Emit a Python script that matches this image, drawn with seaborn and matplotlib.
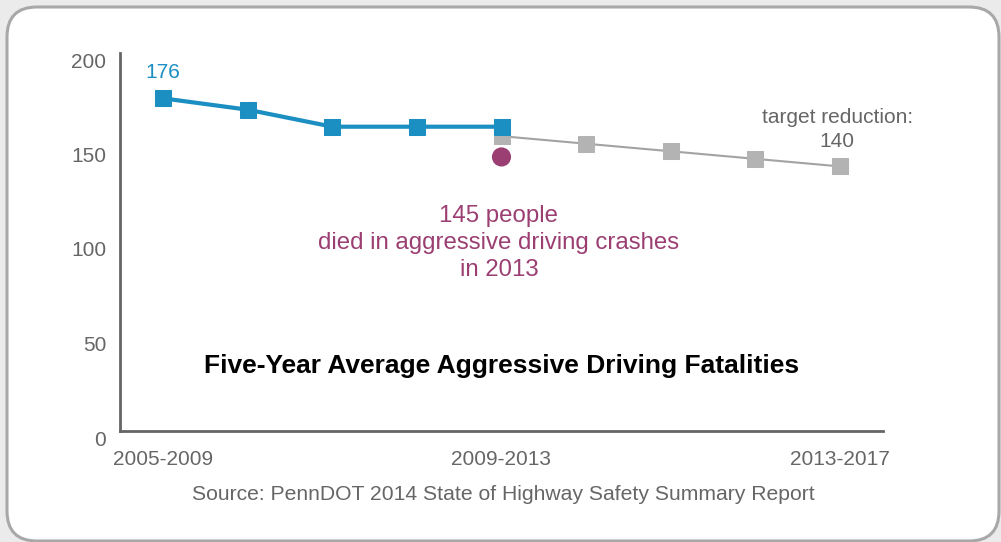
import matplotlib
matplotlib.use("Agg")
import matplotlib.pyplot as plt
import matplotlib.transforms as mtransforms
from matplotlib.patches import FancyBboxPatch
import seaborn as sns
import pandas as pd

# ---- data ----
periods = ["2005-2009", "2006-2010", "2007-2011", "2008-2012", "2009-2013",
           "2010-2014", "2011-2015", "2012-2016", "2013-2017"]
actual_values = [176, 170, 161, 161, 161]
target_values = [156, 152, 148, 144, 140]
observed_2013 = [145]
yticks = [0, 50, 100, 150, 200]
xtick_labels = ["2005-2009", "2009-2013", "2013-2017"]

BLUE = "#1b8ec2"
GRAY_M = "#b3b3b3"
GRAY_L = "#a3a3a3"
PURPLE = "#9b3f72"
TXT = "#666666"
FONT = ["Liberation Sans", "DejaVu Sans"]

sns.set_theme(style="white")
plt.rcParams["font.family"] = FONT

fig = plt.figure(figsize=(10.01, 5.42), dpi=100)
fig.patch.set_facecolor("#ebebeb")

# rounded card
card = FancyBboxPatch((7 / 1001, 1 / 542), 992 / 1001, 534 / 542,
                      boxstyle="round,pad=0,rounding_size=0.03",
                      transform=fig.transFigure, facecolor="white",
                      edgecolor="#a8a8a8", linewidth=2.2, mutation_aspect=1001 / 542,
                      zorder=-10)
fig.patches.append(card)

ax = fig.add_axes([120 / 1001, (542 - 431) / 542, 763 / 1001, 378 / 542])
ax.set_facecolor("none")
ax.set_zorder(5)

n_act = len(actual_values)
df_act = pd.DataFrame({"x": list(range(n_act)), "y": actual_values})
df_tgt = pd.DataFrame({"x": list(range(n_act - 1, n_act - 1 + len(target_values))),
                       "y": target_values})
df_obs = pd.DataFrame({"x": [n_act - 1], "y": observed_2013})

sns.lineplot(data=df_tgt, x="x", y="y", ax=ax, color=GRAY_L, linewidth=1.5,
             marker="s", markersize=11, markerfacecolor=GRAY_M,
             markeredgecolor=GRAY_M, zorder=2)
sns.lineplot(data=df_act, x="x", y="y", ax=ax, color=BLUE, linewidth=3,
             marker="s", markersize=11, markerfacecolor=BLUE,
             markeredgecolor=BLUE, zorder=3)
sns.scatterplot(data=df_obs, x="x", y="y", ax=ax, color=PURPLE, s=190,
                edgecolor="none", zorder=4)

ax.set_xlim(-0.51, 8.51)
ax.set_ylim(0, 199.8)
ax.set_xlabel("")
ax.set_ylabel("")

for s in ["top", "right"]:
    ax.spines[s].set_visible(False)
for s in ["left", "bottom"]:
    ax.spines[s].set_color("#666666")
    ax.spines[s].set_linewidth(2)

ax.set_yticks(yticks)
ax.set_yticklabels([str(v) for v in yticks])
ax.set_xticks([0, 4, 8])
ax.set_xticklabels(xtick_labels)
ax.tick_params(axis="both", length=0, labelsize=15, labelcolor=TXT)
ax.tick_params(axis="y", pad=10)
ax.tick_params(axis="x", pad=14)
off = mtransforms.ScaledTranslation(0, -7 / 100, fig.dpi_scale_trans)
for lab in ax.get_yticklabels():
    lab.set_transform(lab.get_transform() + off)

# annotations
ax.annotate(str(actual_values[0]), (0, actual_values[0]), xytext=(0, 12),
            textcoords="offset points", ha="center", va="bottom",
            fontsize=15, color=BLUE)
ax.annotate("target reduction:\n" + str(target_values[-1]), (8, target_values[-1]),
            xytext=(-2, 11), textcoords="offset points", ha="center", va="bottom",
            fontsize=15, color=TXT, linespacing=1.35, multialignment="center")
ax.text(3.97, 99.5, "145 people\ndied in aggressive driving crashes\nin 2013",
        ha="center", va="center", fontsize=17.3, color=PURPLE, linespacing=1.29)
ax.text(4.0, 34.5, "Five-Year Average Aggressive Driving Fatalities",
        ha="center", va="center", fontsize=19, fontweight="bold", color="black")

fig.text(503 / 1001, 1 - 495 / 542,
         "Source: PennDOT 2014 State of Highway Safety Summary Report",
         ha="center", va="center", fontsize=15.2, color=TXT)

fig.savefig("out.png", dpi=100, facecolor=fig.get_facecolor())
